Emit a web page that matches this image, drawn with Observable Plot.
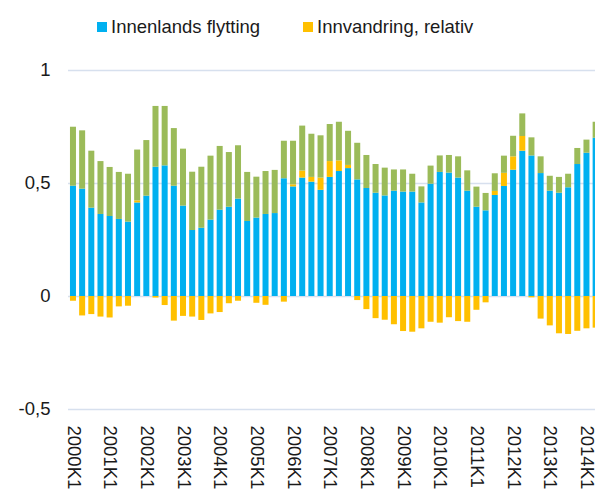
<!DOCTYPE html>
<html>
<head>
<meta charset="utf-8">
<script src="https://cdn.jsdelivr.net/npm/d3@7"></script>
<script src="https://cdn.jsdelivr.net/npm/@observablehq/plot@0.6"></script>
<style>
  html, body { margin: 0; padding: 0; overflow: hidden; background: #fff; }
  body { width: 595px; height: 493px; font-family: "Liberation Sans", Arial, sans-serif; }
  #legend { position: relative; height: 45px; font-size: 18.5px; color: #1a1a1a; }
  .item { position: absolute; top: 16px; display: flex; align-items: center; white-space: nowrap; line-height: 22px; }
  .sw { width: 10px; height: 10px; margin-right: 4px; }
</style>
</head>
<body>
<div id="legend"></div>
<div id="chart"></div>
<script>
const quarters = [
  "2000K1","2000K2","2000K3","2000K4","2001K1","2001K2","2001K3","2001K4",
  "2002K1","2002K2","2002K3","2002K4","2003K1","2003K2","2003K3","2003K4",
  "2004K1","2004K2","2004K3","2004K4","2005K1","2005K2","2005K3","2005K4",
  "2006K1","2006K2","2006K3","2006K4","2007K1","2007K2","2007K3","2007K4",
  "2008K1","2008K2","2008K3","2008K4","2009K1","2009K2","2009K3","2009K4",
  "2010K1","2010K2","2010K3","2010K4","2011K1","2011K2","2011K3","2011K4",
  "2012K1","2012K2","2012K3","2012K4","2013K1","2013K2","2013K3","2013K4",
  "2014K1","2014K2"
];
const tickLabels = ["2000K1","2001K1","2002K1","2003K1","2004K1","2005K1","2006K1","2007K1",
  "2008K1","2009K1","2010K1","2011K1","2012K1","2013K1","2014K1"];
const seriesNames = ["Innenlands flytting", "Innvandring, relativ", "Øvrig"];
const seriesColors = ["#00B0F0", "#FFC000", "#9BBB59"];
const legendNames = ["Innenlands flytting", "Innvandring, relativ"];

const innenlands = [
  0.488,0.475,0.391,0.363,0.354,0.341,0.329,0.414,
  0.444,0.572,0.578,0.488,0.400,0.292,0.302,0.338,
  0.382,0.395,0.431,0.332,0.347,0.363,0.367,0.521,
  0.485,0.524,0.506,0.470,0.527,0.553,0.566,0.516,
  0.478,0.457,0.445,0.466,0.462,0.462,0.414,0.497,
  0.549,0.546,0.524,0.466,0.395,0.379,0.447,0.487,
  0.559,0.643,0.622,0.544,0.466,0.457,0.481,0.584,
  0.634,0.700
];
const innvandring = [
  -0.021,-0.086,-0.080,-0.091,-0.095,-0.046,-0.043,0.009,
  0.000,-0.007,-0.040,-0.109,-0.088,-0.091,-0.106,-0.077,
  -0.071,-0.032,-0.021,0.000,-0.030,-0.039,0.000,-0.025,
  0.009,0.031,0.021,0.054,0.070,0.047,0.014,-0.018,
  -0.058,-0.098,-0.105,-0.125,-0.155,-0.158,-0.143,-0.114,
  -0.118,-0.094,-0.111,-0.114,-0.061,-0.028,0.018,0.058,
  0.059,0.065,-0.006,-0.100,-0.130,-0.165,-0.168,-0.154,
  -0.143,-0.140
];
const ovrig = [
  0.261,0.258,0.252,0.234,0.217,0.208,0.212,0.225,
  0.246,0.269,0.263,0.255,0.252,0.258,0.270,0.283,
  0.282,0.242,0.236,0.217,0.181,0.190,0.191,0.166,
  0.193,0.199,0.191,0.187,0.164,0.171,0.151,0.162,
  0.146,0.127,0.123,0.094,0.098,0.079,0.071,0.080,
  0.073,0.078,0.094,0.090,0.089,0.077,0.078,0.076,
  0.091,0.100,0.080,0.074,0.066,0.070,0.060,0.071,
  0.058,0.071
];
const yTicks = [-0.5, 0, 0.5, 1];

const rows = [];
quarters.forEach((q, i) => {
  rows.push({q, s: seriesNames[0], v: innenlands[i]});
  rows.push({q, s: seriesNames[1], v: innvandring[i]});
  rows.push({q, s: seriesNames[2], v: ovrig[i]});
});

// legend
const legend = document.getElementById("legend");
const legendLeft = [97, 303];
legendNames.forEach((name, i) => {
  const it = document.createElement("div");
  it.className = "item";
  it.style.left = legendLeft[i] + "px";
  it.innerHTML = `<span class="sw" style="background:${seriesColors[i]}"></span><span>${name}</span>`;
  legend.appendChild(it);
});

const chart = Plot.plot({
  width: 595,
  height: 448,
  marginTop: 25,
  marginBottom: 84,
  marginLeft: 68,
  marginRight: 0,
  style: {fontFamily: "Liberation Sans, Arial, sans-serif", fontSize: "18.5px", color: "#1a1a1a", background: "white"},
  x: {
    domain: quarters,
    range: [66.8, 601.8],
    round: false,
    padding: 0.345,
    tickSize: 0,
    tickPadding: 16,
    tickRotate: 90,
    tickFormat: d => tickLabels.includes(d) ? d : "",
    label: null
  },
  y: {
    domain: [-0.5, 1],
    ticks: yTicks,
    tickSize: 0,
    tickPadding: 18,
    tickFormat: d => String(d).replace(".", ","),
    label: null
  },
  color: {domain: seriesNames, range: seriesColors},
  marks: [
    Plot.ruleY(yTicks, {stroke: "#d7e0ee", strokeWidth: 1.5}),
    Plot.barY(rows, Plot.stackY({x: "q", y: "v", fill: "s"}))
  ]
});
document.getElementById("chart").appendChild(chart);
</script>
</body>
</html>
